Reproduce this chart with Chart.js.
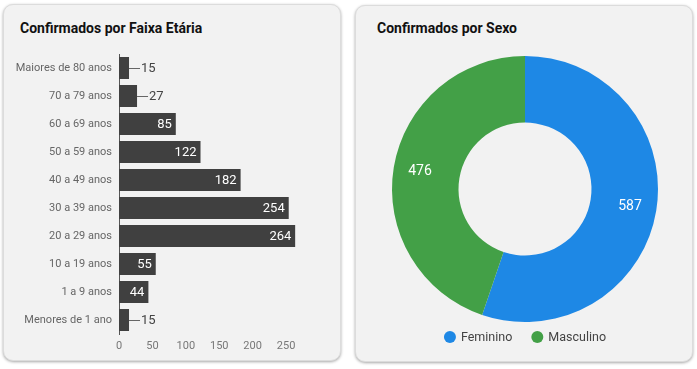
<!DOCTYPE html>
<html>
<head>
<meta charset="utf-8">
<script src="https://cdn.jsdelivr.net/npm/chart.js@4.4.1/dist/chart.umd.min.js"></script>
<style>
  html, body { margin:0; padding:0; background:#ffffff; width:697px; height:369px; overflow:hidden; font-family: Roboto, "Noto Sans", sans-serif; }
  .card { position:absolute; background:#f2f2f2; border:1px solid #dcdcdc; border-radius:10px; box-shadow:0 1px 3px rgba(0,0,0,0.35); box-sizing:border-box; }
  .title { position:absolute; font-family: Roboto, sans-serif; font-weight:bold; font-size:14px; color:#111; white-space:nowrap; }
  canvas { position:absolute; }
</style>
</head>
<body>
<div class="card" style="left:3px;top:4px;width:338px;height:357px;"></div>
<div class="card" style="left:355px;top:5px;width:338px;height:357px;"></div>
<div class="title" style="left:20px;top:20px;">Confirmados por Faixa Etária</div>
<div class="title" style="left:377px;top:20px;">Confirmados por Sexo</div>
<canvas id="bar" style="left:5px;top:48px;width:334px;height:310px;" width="334" height="310"></canvas>
<canvas id="pie" style="left:357px;top:50px;width:336px;height:310px;" width="336" height="310"></canvas>
<script>
const ageLabels = ["Maiores de 80 anos","70 a 79 anos","60 a 69 anos","50 a 59 anos","40 a 49 anos","30 a 39 anos","20 a 29 anos","10 a 19 anos","1 a 9 anos","Menores de 1 ano"];
const ageValues = [15, 27, 85, 122, 182, 254, 264, 55, 44, 15];
const xTicks = [0, 50, 100, 150, 200, 250];
const xMax = 264;

const sexLabels = ["Feminino","Masculino"];
const sexValues = [587, 476];
const sexColors = ["#1e88e5","#43a047"];

const FONT = "Roboto, 'Noto Sans', sans-serif";

const barLabelPlugin = {
  id: 'barLabels',
  afterDatasetsDraw(chart) {
    const ctx = chart.ctx;
    const meta = chart.getDatasetMeta(0);
    ctx.save();
    ctx.font = "13px " + FONT;
    ctx.textBaseline = 'middle';
    meta.data.forEach((bar, i) => {
      const txt = String(chart.data.datasets[0].data[i]);
      const tw = ctx.measureText(txt).width;
      const w = bar.x - bar.base;
      if (w >= tw + 10) {
        ctx.fillStyle = '#ffffff';
        ctx.textAlign = 'right';
        ctx.fillText(txt, bar.x - 4, bar.y + 0.5);
      } else {
        ctx.strokeStyle = '#666';
        ctx.lineWidth = 1;
        ctx.beginPath();
        ctx.moveTo(bar.x, Math.round(bar.y) + 0.5);
        ctx.lineTo(bar.x + 11, Math.round(bar.y) + 0.5);
        ctx.stroke();
        ctx.fillStyle = '#444';
        ctx.textAlign = 'left';
        ctx.fillText(txt, bar.x + 12, bar.y + 0.5);
      }
    });
    ctx.restore();
  }
};

new Chart(document.getElementById('bar'), {
  type: 'bar',
  data: {
    labels: ageLabels,
    datasets: [{ data: ageValues, backgroundColor: '#404040', barPercentage: 0.78, categoryPercentage: 1.0 }]
  },
  options: {
    indexAxis: 'y',
    responsive: false,
    animation: false,
    layout: { padding: { top: 6, bottom: 4, right: 43.6, left: 0 } },
    plugins: { legend: { display: false }, tooltip: { enabled: false } },
    scales: {
      x: {
        min: 0, max: xMax,
        grid: { display: false, drawTicks: false },
        border: { display: false },
        ticks: { padding: 6, autoSkip: false, maxRotation: 0, color: '#777', font: { family: FONT, size: 11 } },
        afterBuildTicks(scale) { scale.ticks = xTicks.map(v => ({ value: v })); },
        afterFit(scale) { scale.height = 20; scale.paddingLeft = 0; scale.paddingRight = 0; }
      },
      y: {
        grid: { display: false, drawTicks: false },
        border: { display: true, color: '#555', width: 1 },
        ticks: { padding: 7, autoSkip: false, color: '#666', font: { family: FONT, size: 11 } },
        afterFit(scale) { scale.width = 114; scale.paddingTop = 0; scale.paddingBottom = 0; }
      }
    }
  },
  plugins: [barLabelPlugin]
});

const pieLabelPlugin = {
  id: 'pieLabels',
  afterDatasetsDraw(chart) {
    const ctx = chart.ctx;
    const meta = chart.getDatasetMeta(0);
    ctx.save();
    ctx.font = "14px " + FONT;
    ctx.fillStyle = '#ffffff';
    ctx.textAlign = 'center';
    ctx.textBaseline = 'middle';
    meta.data.forEach((arc, i) => {
      const mid = (arc.startAngle + arc.endAngle) / 2;
      const rr = arc.innerRadius + 0.6 * (arc.outerRadius - arc.innerRadius);
      ctx.fillText(String(chart.data.datasets[0].data[i]), arc.x + Math.cos(mid) * rr, arc.y + Math.sin(mid) * rr);
    });
    ctx.restore();
  }
};

const pieLegendPlugin = {
  id: 'pieLegend',
  afterDraw(chart) {
    const ctx = chart.ctx;
    const area = chart.chartArea;
    ctx.save();
    ctx.font = "12.5px " + FONT;
    ctx.textBaseline = 'middle';
    const r = 6, textOff = 11, gap = 25;
    const widths = chart.data.labels.map(l => ctx.measureText(l).width);
    let total = 0;
    widths.forEach((w, i) => { total += r + textOff + w; if (i < widths.length - 1) total += gap - r; });
    const cx = (area.left + area.right) / 2;
    let x = cx - total / 2 + r;
    const y = area.bottom + 15;
    chart.data.labels.forEach((l, i) => {
      ctx.fillStyle = chart.data.datasets[0].backgroundColor[i];
      ctx.beginPath();
      ctx.arc(x, y, r, 0, Math.PI * 2);
      ctx.fill();
      ctx.fillStyle = '#444';
      ctx.textAlign = 'left';
      ctx.fillText(l, x + textOff, y + 0.5);
      x += textOff + widths[i] + gap;
    });
    ctx.restore();
  }
};

new Chart(document.getElementById('pie'), {
  type: 'doughnut',
  data: {
    labels: sexLabels,
    datasets: [{ data: sexValues, backgroundColor: sexColors, borderWidth: 0 }]
  },
  options: {
    responsive: false,
    animation: false,
    cutout: '50%',
    layout: { padding: { top: 6, bottom: 38 } },
    plugins: { legend: { display: false }, tooltip: { enabled: false } }
  },
  plugins: [pieLabelPlugin, pieLegendPlugin]
});
</script>
</body>
</html>
